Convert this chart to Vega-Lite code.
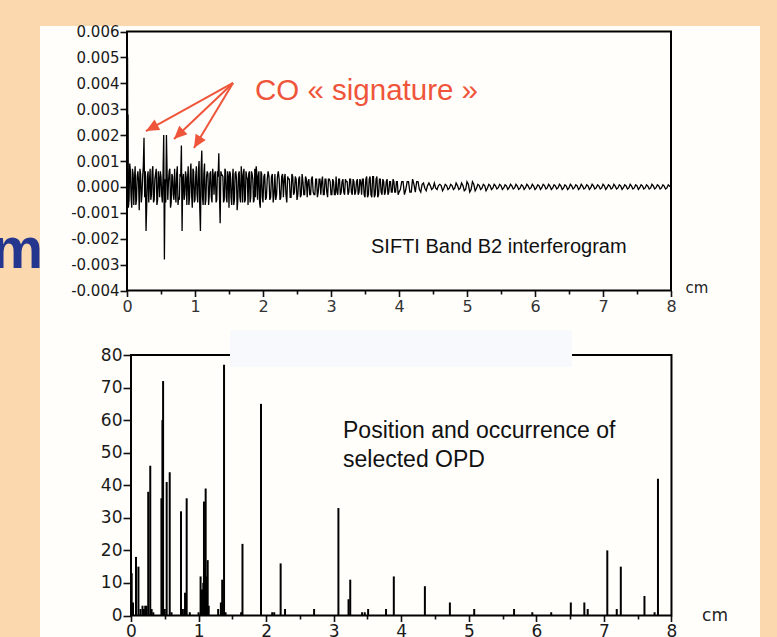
{
  "$schema": "https://vega.github.io/schema/vega-lite/v6.json",
  "width": 720,
  "height": 611,
  "autosize": {"type": "none"},
  "padding": {"left": 40, "top": 26, "right": 17, "bottom": 0},
  "background": "#FCD8AF",
  "config": {
    "view": {"fill": "#FFFEFB", "stroke": null},
    "axis": {"domain": false, "grid": false, "tickColor": "#111111", "tickWidth": 1.6, "labelColor": "#1a1a1a", "labelFont": "DejaVu Sans", "labelOverlap": false, "labelFlush": false, "title": null},
    "text": {"font": "Liberation Sans"}
  },
  "datasets": {
    "ifg": [
      {"x":0,"y":0},{"x":0.004,"y":0.003},{"x":0.008,"y":0.005},{"x":0.012,"y":-0.0003},{"x":0.016,"y":0.0028},{"x":0.02,"y":-0.0008},
      {"x":0.04,"y":0.0009},{"x":0.06,"y":-0.0004},{"x":0.08,"y":0.0007},{"x":0.1,"y":-0.0007},{"x":0.12,"y":0.0008},{"x":0.14,"y":-0.0005},
      {"x":0.16,"y":0.0006},{"x":0.18,"y":-0.0009},{"x":0.2,"y":0.0005},{"x":0.22,"y":-0.0003},{"x":0.24,"y":0.0008},{"x":0.25,"y":0.0019},
      {"x":0.26,"y":-0.0004},{"x":0.28,"y":-0.0017},{"x":0.3,"y":0.0004},{"x":0.32,"y":-0.0006},{"x":0.34,"y":0.0007},{"x":0.36,"y":-0.0003},
      {"x":0.38,"y":0.0008},{"x":0.4,"y":-0.0005},{"x":0.42,"y":0.0005},{"x":0.44,"y":-0.0007},{"x":0.46,"y":0.0006},{"x":0.48,"y":-0.0004},
      {"x":0.5,"y":0.0004},{"x":0.52,"y":-0.0006},{"x":0.54,"y":0.002},{"x":0.55,"y":-0.0028},{"x":0.56,"y":0.0003},{"x":0.58,"y":0.002},
      {"x":0.6,"y":-0.0005},{"x":0.62,"y":0.0006},{"x":0.64,"y":-0.0008},{"x":0.66,"y":0.0005},{"x":0.68,"y":-0.0003},{"x":0.7,"y":0.0007},
      {"x":0.72,"y":-0.0006},{"x":0.74,"y":0.0008},{"x":0.76,"y":-0.0004},{"x":0.78,"y":0.0005},{"x":0.8,"y":0.0016},{"x":0.81,"y":-0.0017},
      {"x":0.82,"y":0.0003},{"x":0.84,"y":-0.0005},{"x":0.86,"y":0.0006},{"x":0.88,"y":-0.0007},{"x":0.9,"y":0.0008},{"x":0.92,"y":-0.0004},
      {"x":0.94,"y":0.0009},{"x":0.96,"y":-0.0008},{"x":0.98,"y":0.0006},{"x":1.0,"y":-0.0005},{"x":1.02,"y":0.0008},{"x":1.04,"y":-0.0006},
      {"x":1.06,"y":0.001},{"x":1.08,"y":-0.0017},{"x":1.1,"y":0.0014},{"x":1.12,"y":-0.0007},{"x":1.14,"y":0.0009},{"x":1.16,"y":-0.0005},
      {"x":1.18,"y":0.0006},{"x":1.2,"y":-0.0007},{"x":1.22,"y":0.0005},{"x":1.24,"y":-0.0004},{"x":1.26,"y":0.0007},{"x":1.28,"y":-0.0003},
      {"x":1.3,"y":0.0006},{"x":1.32,"y":-0.0005},{"x":1.34,"y":0.0004},{"x":1.35,"y":0.0013},{"x":1.37,"y":-0.0014},{"x":1.39,"y":0.0005},
      {"x":1.42,"y":-0.0006},{"x":1.44,"y":0.0007},{"x":1.46,"y":-0.0004},{"x":1.48,"y":0.0006},{"x":1.5,"y":-0.0008},{"x":1.52,"y":0.0005},
      {"x":1.54,"y":-0.0007},{"x":1.56,"y":0.0007},{"x":1.58,"y":-0.0005},{"x":1.6,"y":0.0006},{"x":1.62,"y":-0.0009},{"x":1.64,"y":0.0005},
      {"x":1.66,"y":-0.0004},{"x":1.68,"y":0.0008},{"x":1.7,"y":-0.0006},{"x":1.72,"y":0.0007},{"x":1.74,"y":-0.0005},{"x":1.76,"y":0.0004},
      {"x":1.78,"y":-0.0007},{"x":1.8,"y":0.0006},{"x":1.82,"y":-0.0004},{"x":1.84,"y":0.0005},{"x":1.86,"y":-0.0006},{"x":1.88,"y":0.0007},
      {"x":1.9,"y":0.0008},{"x":1.92,"y":-0.0005},{"x":1.94,"y":0.0006},{"x":1.96,"y":-0.0008},{"x":1.98,"y":0.0005},{"x":2.0,"y":-0.0006},
      {"x":0.03,"y":-0.0005},{"x":0.05,"y":0.0006},{"x":0.07,"y":-0.0008},{"x":0.09,"y":0.0005},{"x":0.11,"y":0.0003},{"x":0.13,"y":-0.0007},
      {"x":0.15,"y":0.0004},{"x":0.17,"y":0.0002},{"x":0.19,"y":0.0007},{"x":0.21,"y":-0.0006},{"x":0.23,"y":0.0004},{"x":0.27,"y":0.0006},
      {"x":0.29,"y":-0.0007},{"x":0.31,"y":0.0006},{"x":0.33,"y":0.0002},{"x":0.35,"y":-0.0005},{"x":0.37,"y":0.0006},{"x":0.39,"y":-0.0006},
      {"x":0.41,"y":0.0003},{"x":0.43,"y":0.0007},{"x":0.45,"y":-0.0005},{"x":0.47,"y":0.0003},{"x":0.49,"y":0.0006},{"x":0.51,"y":-0.0003},
      {"x":0.53,"y":0.0005},{"x":0.57,"y":-0.0006},{"x":0.59,"y":0.0005},{"x":0.61,"y":0.0002},{"x":0.63,"y":0.0007},{"x":0.65,"y":-0.0006},
      {"x":0.67,"y":0.0004},{"x":0.69,"y":-0.0005},{"x":0.71,"y":-0.0002},{"x":0.73,"y":0.0005},{"x":0.75,"y":-0.0007},{"x":0.77,"y":-0.0005},
      {"x":0.79,"y":0.0004},{"x":0.83,"y":0.0005},{"x":0.85,"y":-0.0003},{"x":0.87,"y":0.0004},{"x":0.89,"y":0.0003},{"x":0.91,"y":-0.0007},
      {"x":0.93,"y":0.0005},{"x":0.95,"y":-0.0003},{"x":0.97,"y":0.0007},{"x":0.99,"y":-0.0006},{"x":1.01,"y":0.0004},{"x":1.03,"y":-0.0003},
      {"x":1.05,"y":0.0006},{"x":1.07,"y":-0.0008},{"x":1.09,"y":0.0007},{"x":1.11,"y":-0.0004},{"x":1.13,"y":0.0005},{"x":1.15,"y":-0.0007},
      {"x":1.17,"y":0.0004},{"x":1.19,"y":0.0005},{"x":1.21,"y":-0.0003},{"x":1.23,"y":0.0006},{"x":1.25,"y":-0.0006},{"x":1.27,"y":0.0004},
      {"x":1.29,"y":0.0005},{"x":1.31,"y":-0.0006},{"x":1.33,"y":0.0006},{"x":1.36,"y":-0.0003},{"x":1.38,"y":0.0006},{"x":1.41,"y":0.0004},
      {"x":1.43,"y":-0.0005},{"x":1.45,"y":0.0006},{"x":1.47,"y":-0.0006},{"x":1.49,"y":0.0004},{"x":1.51,"y":0.0006},{"x":1.53,"y":-0.0004},
      {"x":1.55,"y":0.0003},{"x":1.57,"y":-0.0007},{"x":1.59,"y":0.0005},{"x":1.61,"y":0.0003},{"x":1.63,"y":-0.0005},{"x":1.65,"y":0.0006},
      {"x":1.67,"y":-0.0006},{"x":1.69,"y":0.0004},{"x":1.71,"y":0.0005},{"x":1.73,"y":-0.0006},{"x":1.75,"y":0.0006},{"x":1.77,"y":0.0003},
      {"x":1.79,"y":0.0005},{"x":1.81,"y":-0.0006},{"x":1.83,"y":0.0006},{"x":1.85,"y":0.0003},{"x":1.87,"y":-0.0005},{"x":1.89,"y":-0.0004},
      {"x":1.91,"y":0.0005},{"x":1.93,"y":0.0004},{"x":1.95,"y":-0.0006},{"x":1.97,"y":0.0006},{"x":1.99,"y":-0.0004},
      {"x":2.025,"y":0.0005},{"x":2.05,"y":-0.0004},{"x":2.075,"y":0.0006},{"x":2.1,"y":-0.0005},{"x":2.125,"y":0.0004},{"x":2.15,"y":-0.0006},
      {"x":2.175,"y":0.0005},{"x":2.2,"y":-0.0003},{"x":2.225,"y":0.0006},{"x":2.25,"y":-0.0005},{"x":2.275,"y":0.0004},{"x":2.3,"y":-0.0004},
      {"x":2.325,"y":0.0005},{"x":2.35,"y":-0.0006},{"x":2.375,"y":0.0003},{"x":2.4,"y":-0.0004},{"x":2.425,"y":0.0005},{"x":2.45,"y":-0.0003},
      {"x":2.475,"y":0.0004},{"x":2.5,"y":-0.0005},{"x":2.525,"y":0.0003},{"x":2.55,"y":-0.0004},{"x":2.575,"y":0.0005},{"x":2.6,"y":-0.0003},
      {"x":2.625,"y":0.0004},{"x":2.65,"y":-0.0004},{"x":2.675,"y":0.0003},{"x":2.7,"y":-0.0003},{"x":2.725,"y":0.0004},{"x":2.75,"y":-0.0003},
      {"x":2.775,"y":0.0003},{"x":2.8,"y":-0.0004},{"x":2.825,"y":0.0003},{"x":2.85,"y":-0.0003},{"x":2.875,"y":0.0004},{"x":2.9,"y":-0.0003},
      {"x":2.925,"y":0.0003},{"x":2.95,"y":-0.0004},{"x":2.975,"y":0.0003},{"x":3.0,"y":-0.0003},{"x":3.025,"y":0.0003},{"x":3.05,"y":-0.0003},
      {"x":3.075,"y":0.0004},{"x":3.1,"y":-0.0003},{"x":3.125,"y":0.0003},{"x":3.15,"y":-0.0002},{"x":3.175,"y":0.0003},{"x":3.2,"y":-0.0003},
      {"x":3.225,"y":0.0002},{"x":3.25,"y":-0.0003},{"x":3.275,"y":0.0003},{"x":3.3,"y":-0.0002},{"x":3.325,"y":0.0003},{"x":3.35,"y":-0.0003},
      {"x":3.375,"y":0.0002},{"x":3.4,"y":-0.0003},{"x":3.425,"y":0.0003},{"x":3.45,"y":-0.0003},{"x":3.475,"y":0.0003},{"x":3.5,"y":-0.0004},
      {"x":3.525,"y":0.0004},{"x":3.55,"y":-0.0003},{"x":3.575,"y":0.0004},{"x":3.6,"y":-0.0004},{"x":3.625,"y":0.0004},{"x":3.65,"y":-0.0003},
      {"x":3.675,"y":0.0004},{"x":3.7,"y":-0.0003},{"x":3.725,"y":0.0003},{"x":3.75,"y":-0.0003},{"x":3.775,"y":0.0002},{"x":3.8,"y":-0.0002},
      {"x":3.825,"y":0.0003},{"x":3.85,"y":-0.0002},{"x":3.875,"y":0.0002},{"x":3.9,"y":-0.0002},{"x":3.925,"y":0.0002},{"x":3.95,"y":-0.0002},
      {"x":3.975,"y":0.0002},{"x":4.0,"y":-0.0002},
      {"x":2.0125,"y":0.0004},{"x":2.0375,"y":-0.0005},{"x":2.0625,"y":0.0003},{"x":2.0875,"y":0.0004},{"x":2.1125,"y":-0.0004},{"x":2.1375,"y":0.0005},
      {"x":2.1625,"y":-0.0003},{"x":2.1875,"y":-0.0005},{"x":2.2125,"y":0.0004},{"x":2.2375,"y":0.0003},{"x":2.2625,"y":-0.0004},{"x":2.2875,"y":0.0005},
      {"x":2.3125,"y":0.0003},{"x":2.3375,"y":-0.0003},{"x":2.3625,"y":0.0004},{"x":2.3875,"y":0.0003},{"x":2.4125,"y":-0.0004},{"x":2.4375,"y":0.0004},
      {"x":2.4625,"y":-0.0002},{"x":2.4875,"y":0.0003},{"x":2.5125,"y":-0.0003},{"x":2.5375,"y":0.0004},{"x":2.5625,"y":-0.0003},{"x":2.5875,"y":0.0002},
      {"x":2.6125,"y":-0.0003},{"x":2.6375,"y":0.0003},{"x":2.6625,"y":0.0002},{"x":2.6875,"y":-0.0003},{"x":2.7125,"y":0.0003},{"x":2.7375,"y":-0.0002},
      {"x":2.7625,"y":-0.0003},{"x":2.7875,"y":0.0003},{"x":2.8125,"y":-0.0002},{"x":2.8375,"y":0.0003},{"x":2.8625,"y":0.0002},{"x":2.8875,"y":-0.0003},
      {"x":2.9125,"y":0.0003},{"x":2.9375,"y":-0.0002},{"x":2.9625,"y":0.0003},{"x":2.9875,"y":0.0002},{"x":3.0125,"y":-0.0003},{"x":3.0375,"y":0.0002},
      {"x":3.0625,"y":-0.0003},{"x":3.0875,"y":-0.0002},{"x":3.1125,"y":0.0003},{"x":3.1375,"y":-0.0003},{"x":3.1625,"y":0.0002},{"x":3.1875,"y":-0.0002},
      {"x":3.2125,"y":0.0003},{"x":3.2375,"y":0.0002},{"x":3.2625,"y":-0.0002},{"x":3.2875,"y":0.0003},{"x":3.3125,"y":-0.0003},{"x":3.3375,"y":0.0002},
      {"x":3.3625,"y":-0.0002},{"x":3.3875,"y":0.0003},{"x":3.4125,"y":-0.0002},{"x":3.4375,"y":0.0002},{"x":3.4625,"y":0.0003},{"x":3.4875,"y":-0.0003},
      {"x":3.5125,"y":0.0003},{"x":3.5375,"y":-0.0004},{"x":3.5625,"y":0.0003},{"x":3.5875,"y":-0.0003},{"x":3.6125,"y":0.0004},{"x":3.6375,"y":-0.0004},
      {"x":3.6625,"y":0.0003},{"x":3.6875,"y":-0.0004},{"x":3.7125,"y":0.0003},{"x":3.7375,"y":-0.0002},{"x":3.7625,"y":0.0003},{"x":3.7875,"y":-0.0003},
      {"x":3.8125,"y":0.0002},{"x":3.8375,"y":-0.0003},{"x":3.8625,"y":0.0002},{"x":3.8875,"y":-0.0002},{"x":3.9125,"y":0.0003},{"x":3.9375,"y":-0.0002},
      {"x":3.9625,"y":0.0002},{"x":3.9875,"y":-0.0003},
      {"x":4.04,"y":0.0002},{"x":4.08,"y":-0.0003},{"x":4.12,"y":0.0002},{"x":4.16,"y":-0.0002},{"x":4.2,"y":0.0003},{"x":4.24,"y":-0.0002},
      {"x":4.28,"y":0.0002},{"x":4.32,"y":-0.0002},{"x":4.36,"y":0.00015},{"x":4.4,"y":-0.00015},{"x":4.44,"y":0.00015},{"x":4.48,"y":-0.0001},
      {"x":4.52,"y":0.00015},{"x":4.56,"y":-0.0001},{"x":4.6,"y":0.0001},{"x":4.64,"y":-0.00015},{"x":4.68,"y":0.0001},{"x":4.72,"y":-0.0001},
      {"x":4.76,"y":0.0001},{"x":4.8,"y":-0.0001},{"x":4.84,"y":0.00015},{"x":4.88,"y":-0.0001},{"x":4.92,"y":0.00015},{"x":4.96,"y":-0.00015},
      {"x":5.0,"y":0.0002},{"x":5.04,"y":-0.0002},{"x":5.08,"y":0.0002},{"x":5.12,"y":-0.00015},{"x":5.16,"y":0.0001},{"x":5.2,"y":-0.0001},
      {"x":5.24,"y":0.0001},{"x":5.28,"y":-0.00015},{"x":5.32,"y":0.0001},{"x":5.36,"y":-0.0001},{"x":5.4,"y":0.0001},{"x":5.44,"y":-0.00008},
      {"x":5.48,"y":0.0001},{"x":5.52,"y":-0.0001},{"x":5.56,"y":0.00008},{"x":5.6,"y":-0.0001},{"x":5.64,"y":0.0001},{"x":5.68,"y":-0.00008},
      {"x":5.72,"y":0.0001},{"x":5.76,"y":-0.0001},{"x":5.8,"y":0.00008},{"x":5.84,"y":-0.0001},{"x":5.88,"y":0.0001},{"x":5.92,"y":-0.00008},
      {"x":5.96,"y":0.0001},{"x":6.0,"y":-0.0001},{"x":6.04,"y":0.00008},{"x":6.08,"y":-0.0001},{"x":6.12,"y":0.0001},{"x":6.16,"y":-0.00008},
      {"x":6.2,"y":0.0001},{"x":6.24,"y":-0.0001},{"x":6.28,"y":0.00008},{"x":6.32,"y":-0.00008},{"x":6.36,"y":0.0001},{"x":6.4,"y":-0.0001},
      {"x":6.44,"y":0.00008},{"x":6.48,"y":-0.0001},{"x":6.52,"y":0.0001},{"x":6.56,"y":-0.00008},{"x":6.6,"y":0.00008},{"x":6.64,"y":-0.0001},
      {"x":6.68,"y":0.0001},{"x":6.72,"y":-0.00008},{"x":6.76,"y":0.00008},{"x":6.8,"y":-0.0001},{"x":6.84,"y":0.0001},{"x":6.88,"y":-0.00008},
      {"x":6.92,"y":0.00008},{"x":6.96,"y":-0.00008},{"x":7.0,"y":0.0001},{"x":7.04,"y":-0.0001},{"x":7.08,"y":0.00008},{"x":7.12,"y":-0.00008},
      {"x":7.16,"y":0.0001},{"x":7.2,"y":-0.00008},{"x":7.24,"y":0.00008},{"x":7.28,"y":-0.0001},{"x":7.32,"y":0.00008},{"x":7.36,"y":-0.00008},
      {"x":7.4,"y":0.0001},{"x":7.44,"y":-0.00008},{"x":7.48,"y":0.00008},{"x":7.52,"y":-0.0001},{"x":7.56,"y":0.00008},{"x":7.6,"y":-0.00008},
      {"x":7.64,"y":0.00008},{"x":7.68,"y":-0.00008},{"x":7.72,"y":0.0001},{"x":7.76,"y":-0.00008},{"x":7.8,"y":0.00008},{"x":7.84,"y":-0.00008},
      {"x":7.88,"y":0.00008},{"x":7.92,"y":-0.00008},{"x":7.96,"y":0.00008},{"x":8.0,"y":0},
      {"x":4.02,"y":-0.0001},{"x":4.06,"y":0.0002},{"x":4.1,"y":-0.0001},{"x":4.14,"y":0.0002},{"x":4.18,"y":-0.0002},{"x":4.22,"y":0.0001},
      {"x":4.26,"y":0.0002},{"x":4.3,"y":-0.0001},{"x":4.34,"y":0.0001},{"x":4.38,"y":-0.00005},{"x":4.42,"y":0.00005},{"x":4.46,"y":0.00005},
      {"x":4.5,"y":-0.00005},{"x":4.54,"y":-0.00005},{"x":4.58,"y":0.00005},{"x":4.62,"y":0.00005},{"x":4.66,"y":-0.00005},{"x":4.7,"y":0.00005},
      {"x":4.74,"y":-0.00005},{"x":4.78,"y":0.00005},{"x":4.82,"y":-0.00005},{"x":4.86,"y":0.00005},{"x":4.9,"y":-0.00005},{"x":4.94,"y":0.00005},
      {"x":4.98,"y":-0.0001},{"x":5.02,"y":0.0001},{"x":5.06,"y":-0.0001},{"x":5.1,"y":0.0001},{"x":5.14,"y":-0.00005},{"x":5.18,"y":0.00005},
      {"x":5.22,"y":-0.00005},{"x":5.26,"y":0.00005},{"x":5.3,"y":-0.00005},{"x":5.34,"y":0.00005},{"x":5.38,"y":-0.00005},{"x":5.42,"y":0.00004},
      {"x":5.46,"y":-0.00003},{"x":5.5,"y":0.00005},{"x":5.54,"y":-0.00004},{"x":5.58,"y":0.00004},{"x":5.62,"y":-0.00003},{"x":5.66,"y":0.00004},
      {"x":5.7,"y":-0.00004},{"x":5.74,"y":0.00003},{"x":5.78,"y":-0.00005},{"x":5.82,"y":0.00004},{"x":5.86,"y":-0.00003},{"x":5.9,"y":0.00004},
      {"x":5.94,"y":-0.00004},{"x":5.98,"y":0.00003},{"x":6.02,"y":-0.00004},{"x":6.06,"y":0.00004},{"x":6.1,"y":-0.00003},{"x":6.14,"y":0.00005},
      {"x":6.18,"y":-0.00004},{"x":6.22,"y":0.00003},{"x":6.26,"y":-0.00004},{"x":6.3,"y":0.00004},{"x":6.34,"y":-0.00003},{"x":6.38,"y":0.00004},
      {"x":6.42,"y":-0.00004},{"x":6.46,"y":0.00003},{"x":6.5,"y":-0.00004},{"x":6.54,"y":0.00004},{"x":6.58,"y":-0.00003},{"x":6.62,"y":0.00004},
      {"x":6.66,"y":-0.00004},{"x":6.7,"y":0.00003},{"x":6.74,"y":-0.00004},{"x":6.78,"y":0.00004},{"x":6.82,"y":-0.00003},{"x":6.86,"y":0.00004},
      {"x":6.9,"y":-0.00004},{"x":6.94,"y":0.00003},{"x":6.98,"y":-0.00004},{"x":7.02,"y":0.00004},{"x":7.06,"y":-0.00003},{"x":7.1,"y":0.00004},
      {"x":7.14,"y":-0.00004},{"x":7.18,"y":0.00003},{"x":7.22,"y":-0.00004},{"x":7.26,"y":0.00004},{"x":7.3,"y":-0.00003},{"x":7.34,"y":0.00004},
      {"x":7.38,"y":-0.00004},{"x":7.42,"y":0.00003},{"x":7.46,"y":-0.00004},{"x":7.5,"y":0.00004},{"x":7.54,"y":-0.00003},{"x":7.58,"y":0.00004},
      {"x":7.62,"y":-0.00004},{"x":7.66,"y":0.00003},{"x":7.7,"y":-0.00004},{"x":7.74,"y":0.00004},{"x":7.78,"y":-0.00003},{"x":7.82,"y":0.00004},
      {"x":7.86,"y":-0.00004},{"x":7.9,"y":0.00003},{"x":7.94,"y":-0.00004},{"x":7.98,"y":0.00003}
    ],
    "opd": [
      {"x":0.01,"n":13},{"x":0.03,"n":4},{"x":0.074,"n":18},{"x":0.11,"n":15},{"x":0.14,"n":2},{"x":0.17,"n":3},{"x":0.19,"n":2},
      {"x":0.21,"n":3},{"x":0.23,"n":3},{"x":0.255,"n":38},{"x":0.285,"n":46},{"x":0.305,"n":2},{"x":0.33,"n":1},
      {"x":0.45,"n":36},{"x":0.465,"n":60},{"x":0.475,"n":72},{"x":0.5,"n":2},{"x":0.528,"n":41},{"x":0.573,"n":44},{"x":0.6,"n":1},
      {"x":0.74,"n":32},{"x":0.765,"n":2},{"x":0.79,"n":2},{"x":0.8,"n":7},{"x":0.824,"n":36},{"x":0.87,"n":1},
      {"x":1.0,"n":1},{"x":1.03,"n":12},{"x":1.05,"n":8},{"x":1.07,"n":10},{"x":1.08,"n":35},{"x":1.095,"n":14},{"x":1.105,"n":39},
      {"x":1.12,"n":12},{"x":1.135,"n":17},{"x":1.15,"n":3},
      {"x":1.29,"n":2},{"x":1.33,"n":4},{"x":1.35,"n":11},{"x":1.377,"n":77},{"x":1.4,"n":1},
      {"x":1.63,"n":1},{"x":1.65,"n":22},{"x":1.924,"n":65},{"x":2.09,"n":1},{"x":2.12,"n":1},{"x":2.215,"n":16},{"x":2.28,"n":2},{"x":2.71,"n":2},
      {"x":3.07,"n":33},{"x":3.22,"n":5},{"x":3.245,"n":11},{"x":3.42,"n":1},{"x":3.46,"n":1},{"x":3.51,"n":2},{"x":3.775,"n":2},{"x":3.89,"n":12},
      {"x":4.35,"n":9},{"x":4.72,"n":4},{"x":5.08,"n":2},{"x":5.67,"n":2},{"x":5.94,"n":1},{"x":6.22,"n":1},{"x":6.51,"n":4},{"x":6.71,"n":4},
      {"x":6.76,"n":2},{"x":7.05,"n":20},{"x":7.19,"n":2},{"x":7.25,"n":15},{"x":7.6,"n":6},{"x":7.75,"n":1},{"x":7.8,"n":42}
    ],
    "arrows": [
      {"id":1,"x":1.559,"y":0.004012,"tx":0.279,"ty":0.002158},
      {"id":2,"x":1.559,"y":0.004012,"tx":0.691,"ty":0.001849},
      {"id":3,"x":1.559,"y":0.004012,"tx":0.985,"ty":0.001502}
    ]
  },
  "layer": [
    {
      "layer": [
        {
          "data": {"name": "ifg"},
          "mark": {"type": "line", "color": "#000000", "strokeWidth": 1.3},
          "encoding": {
            "x": {"field": "x", "type": "quantitative",
              "scale": {"domain": [-1.2794, 9.3088], "nice": false, "zero": false},
              "axis": {"orient": "bottom", "offset": -346.5,
                "values": [0,0.5,1,1.5,2,2.5,3,3.5,4,4.5,5,5.5,6,6.5,7,7.5,8],
                "tickSize": {"condition": {"test": "datum.value % 1 === 0", "value": 6}, "value": 3.5},
                "labelExpr": "datum.value % 1 === 0 ? format(datum.value, 'd') : ''",
                "labelFontSize": 16, "labelPadding": 2, "labelColor": "#333333"}},
            "y": {"field": "y", "type": "quantitative",
              "scale": {"domain": [-0.017378, 0.0062124], "nice": false, "zero": false},
              "axis": {"orient": "left", "offset": -87,
                "values": [-0.004,-0.0035,-0.003,-0.0025,-0.002,-0.0015,-0.001,-0.0005,0,0.0005,0.001,0.0015,0.002,0.0025,0.003,0.0035,0.004,0.0045,0.005,0.0055,0.006],
                "tickSize": {"condition": {"test": "abs(datum.value*1000-round(datum.value*1000))<1e-6", "value": 7}, "value": 4},
                "labelExpr": "abs(datum.value*1000-round(datum.value*1000))<1e-6 ? replace(format(datum.value,'.3f'),'\u2212','-') : ''",
                "labelFontSize": 15, "labelPadding": 1}}
          }
        },
        {
          "data": {"values": [{}]},
          "mark": {"type": "rect", "fillOpacity": 0, "stroke": "#000000", "strokeWidth": 2},
          "encoding": {
            "x": {"datum": 0}, "x2": {"datum": 8},
            "y": {"datum": -0.004}, "y2": {"datum": 0.006}
          }
        },
        {
          "data": {"name": "arrows"},
          "mark": {"type": "rule", "color": "#EF553A", "strokeWidth": 2},
          "encoding": {
            "x": {"field": "x", "type": "quantitative"}, "y": {"field": "y", "type": "quantitative"},
            "x2": {"field": "tx"}, "y2": {"field": "ty"}
          }
        },
        {
          "data": {"name": "arrows"},
          "mark": {"type": "point", "shape": "M0,0L-1,2.2L1,2.2Z", "filled": true, "color": "#EF553A", "opacity": 1, "size": 140},
          "encoding": {
            "x": {"field": "tx", "type": "quantitative"}, "y": {"field": "ty", "type": "quantitative"},
            "angle": {"field": "id", "type": "quantitative", "scale": {"domain": [1, 3], "range": [241.1, 211]}, "legend": null}
          }
        },
        {
          "data": {"values": [{}]},
          "mark": {"type": "text", "text": "CO « signature »", "align": "left", "baseline": "alphabetic", "fontSize": 29.5, "color": "#EF553A"},
          "encoding": {"x": {"datum": 1.882}, "y": {"datum": 0.003355}}
        },
        {
          "data": {"values": [{}]},
          "mark": {"type": "text", "text": "SIFTI Band B2 interferogram", "align": "left", "baseline": "alphabetic", "fontSize": 20, "color": "#111111"},
          "encoding": {"x": {"datum": 3.588}, "y": {"datum": -0.002552}}
        },
        {
          "data": {"values": [{}]},
          "mark": {"type": "text", "text": "cm", "align": "center", "baseline": "middle", "fontSize": 15, "font": "DejaVu Sans", "color": "#222222"},
          "encoding": {"x": {"datum": 8.382}, "y": {"datum": -0.003903}}
        },
        {
          "data": {"values": [{}]},
          "mark": {"type": "text", "text": "m", "align": "right", "baseline": "alphabetic", "fontSize": 58, "fontWeight": "bold", "color": "#25368F"},
          "encoding": {"x": {"datum": -1.235}, "y": {"datum": -0.003131}}
        }
      ]
    },
    {
      "layer": [
        {
          "data": {"name": "opd"},
          "mark": {"type": "rule", "color": "#000000", "strokeWidth": 2},
          "encoding": {
            "x": {"field": "x", "type": "quantitative",
              "scale": {"domain": [-1.347, 9.3103], "nice": false, "zero": false},
              "axis": {"orient": "bottom", "offset": -21.5,
                "values": [0,0.5,1,1.5,2,2.5,3,3.5,4,4.5,5,5.5,6,6.5,7,7.5,8],
                "tickSize": {"condition": {"test": "datum.value % 1 === 0", "value": 6}, "value": 3.5},
                "labelExpr": "datum.value % 1 === 0 ? format(datum.value, 'd') : ''",
                "labelFontSize": 17, "labelPadding": 2}},
            "y": {"field": "n", "type": "quantitative",
              "scale": {"domain": [-6.603, 181.05], "nice": false, "zero": false},
              "axis": {"orient": "left", "offset": -91,
                "values": [0,5,10,15,20,25,30,35,40,45,50,55,60,65,70,75,80],
                "tickSize": {"condition": {"test": "datum.value % 10 === 0", "value": 8}, "value": 5},
                "labelExpr": "datum.value % 10 === 0 ? datum.label : ''",
                "labelFontSize": 17, "labelPadding": 1}},
            "y2": {"datum": 0}
          }
        },
        {
          "data": {"values": [{}]},
          "mark": {"type": "rect", "fillOpacity": 0, "stroke": "#000000", "strokeWidth": 2},
          "encoding": {
            "x": {"datum": 0}, "x2": {"datum": 8},
            "y": {"datum": 0}, "y2": {"datum": 80}
          }
        },
        {
          "data": {"values": [{}]},
          "mark": {"type": "rect", "color": "#F8F9FD"},
          "encoding": {
            "x": {"datum": 1.465}, "x2": {"datum": 6.528},
            "y": {"datum": 76.3}, "y2": {"datum": 87.7}
          }
        },
        {
          "data": {"values": [{}]},
          "mark": {"type": "text", "text": ["Position and occurrence of", "selected OPD"], "align": "left", "baseline": "alphabetic", "fontSize": 23, "lineHeight": 29, "color": "#111111"},
          "encoding": {"x": {"datum": 3.138}, "y": {"datum": 54.5}}
        },
        {
          "data": {"values": [{}]},
          "mark": {"type": "text", "text": "cm", "align": "center", "baseline": "middle", "fontSize": 17, "font": "DejaVu Sans", "color": "#222222"},
          "encoding": {"x": {"datum": 8.644}, "y": {"datum": -0.15}}
        }
      ]
    }
  ],
  "resolve": {
    "scale": {"x": "independent", "y": "independent"},
    "axis": {"x": "independent", "y": "independent"}
  }
}
